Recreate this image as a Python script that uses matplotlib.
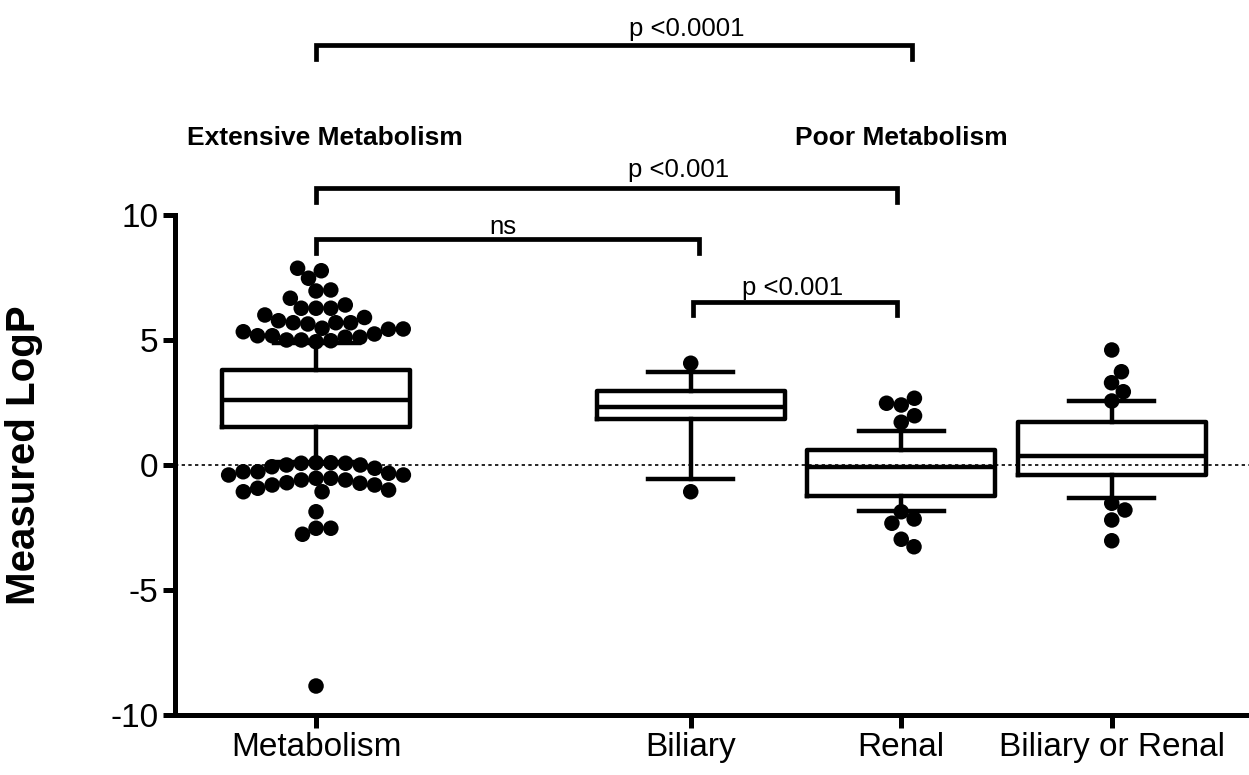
# Measured LogP by elimination route, box plot with outlier dots.
import numpy as np
import matplotlib
matplotlib.use('Agg')
import matplotlib.pyplot as plt

# Groups and box statistics.
groups = ['Metabolism', 'Biliary', 'Renal', 'Biliary or Renal']
positions = [0, 1.78, 2.78, 3.78]
q1 = [1.52, 1.83, -1.23, -0.40]
med = [2.60, 2.31, -0.07, 0.36]
q3 = [3.80, 2.96, 0.60, 1.73]
whislo = [0.13, -0.57, -1.84, -1.33]
whishi = [4.88, 3.73, 1.36, 2.56]

# Points outside the whiskers.
out_metab = [7.87, 7.77, 7.47, 7.0, 6.96, 6.67, 6.4, 6.27, 6.27, 6.27,
             6.0, 5.9, 5.77, 5.69, 5.64, 5.69, 5.69, 5.43, 5.33, 5.47,
             5.44, 5.24, 5.17, 5.17, 5.11, 5.0, 4.97, 4.93, 5.0, 5.11,
             0.09, 0.07, 0.0, -0.07, 0.0, 0.07, 0.09, -0.13, -0.4, -0.53,
             -0.6, -0.71, -0.8, -0.93, -1.07, -1.07, -1.0, -0.8, -0.73, -0.6,
             -0.53, -0.4, -0.27, -0.33, -0.27, -1.87, -2.53, -2.53, -2.77, -8.84]
out_biliary = [4.07, -1.07]
out_renal = [2.67, 2.47, 2.4, 1.97, 1.71, -1.87, -2.16, -2.33, -2.97, -3.27]
out_both = [4.6, 3.73, 3.29, 2.93, 2.56, -1.53, -1.8, -2.2, -3.03]
outliers = [out_metab, out_biliary, out_renal, out_both]

# Significance brackets.
br_x0 = [0, 0, 0, 1.79]
br_x1 = [2.83, 2.76, 1.82, 2.76]
br_y = [16.8, 11.07, 9.03, 6.53]
br_txt = ['p <0.0001', 'p <0.001', 'ns', 'p <0.001']
br_tx = [1.76, 1.72, 0.89, 2.265]
br_ty = [17.15, 11.5, 9.22, 6.8]

# Group headers.
head_txt = ['Extensive Metabolism', 'Poor Metabolism']
head_x = [0.04, 2.78]
head_y = 12.8

plt.rcParams['font.family'] = ['Liberation Sans', 'DejaVu Sans']


# Simple beeswarm: place each dot as close to the centre as it can go.
def swarm(ax, vals, centre, middle, diam):
    vals = np.asarray(vals, dtype=float)
    trans = ax.transData
    inv = trans.inverted()
    cx = trans.transform((centre, 0))[0]
    placed = []
    xs = np.empty(len(vals))
    for i in np.argsort(np.abs(vals - middle), kind='stable'):
        ypx = trans.transform((centre, vals[i]))[1]
        cands = [0.0]
        for px, py in placed:
            dy = ypx - py
            if abs(dy) < diam:
                dx = np.sqrt(diam**2 - dy**2)
                cands += [px + dx, px - dx]
        cands.sort(key=abs)
        for c in cands:
            if all((c - px)**2 + (ypx - py)**2 >= diam**2 - 1e-6 for px, py in placed):
                break
        placed.append((c, ypx))
        xs[i] = inv.transform((cx + c, ypx))[0]
    return xs


fig = plt.figure(figsize=(12.49, 7.75), dpi=100)
ax = fig.add_axes([0.1401, 0.0774, 0.8599, 0.6452])
ax.set_xlim(-0.67, 4.432)
ax.set_ylim(-10, 10)

ax.axhline(0, color='k', lw=1.2, ls=(0, (2, 2)), zorder=0.5)

stats = []
for i in range(len(groups)):
    stats.append(dict(med=med[i], q1=q1[i], q3=q3[i], whislo=whislo[i],
                      whishi=whishi[i], fliers=[]))
lw = 3.2
ax.bxp(stats, positions=positions, widths=0.893, capwidths=0.404,
       showfliers=False,
       boxprops=dict(color='k', lw=lw),
       whiskerprops=dict(color='k', lw=lw),
       capprops=dict(color='k', lw=lw),
       medianprops=dict(color='k', lw=lw))

for i in range(len(groups)):
    xs = swarm(ax, outliers[i], positions[i], med[i], 14.8)
    ax.scatter(xs, outliers[i], s=125, color='k', edgecolors='none',
               zorder=3, clip_on=False)

for i in range(len(br_txt)):
    ax.plot([br_x0[i], br_x0[i], br_x1[i], br_x1[i]],
            [br_y[i] - 0.55, br_y[i], br_y[i], br_y[i] - 0.55],
            color='k', lw=3.4, clip_on=False, solid_joinstyle='miter')
    ax.text(br_tx[i], br_ty[i], br_txt[i], ha='center', va='baseline',
            fontsize=18.5)

for i in range(len(head_txt)):
    ax.text(head_x[i], head_y, head_txt[i], ha='center', va='baseline',
            fontsize=19, fontweight='bold')

ax.set_xticks(positions)
ax.set_xticklabels(groups)
ax.set_yticks([-10, -5, 0, 5, 10])
ax.set_yticklabels(['-10', '-5', '0', '5', '10'])
ax.tick_params(axis='both', length=9, width=3.6, labelsize=24, pad=3)
ax.set_ylabel('Measured LogP', fontsize=29, fontweight='bold')
ax.yaxis.set_label_coords(-0.123, 0.52)

for s in ['top', 'right']:
    ax.spines[s].set_visible(False)
for s in ['left', 'bottom']:
    ax.spines[s].set_linewidth(3.6)

fig.savefig('out.png', dpi=100)
